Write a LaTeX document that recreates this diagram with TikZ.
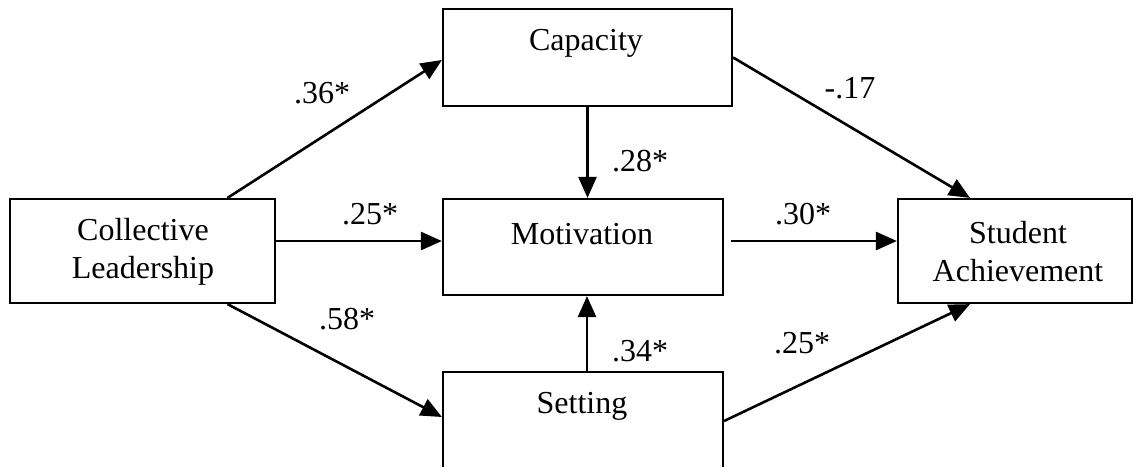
\documentclass[tikz,border=0pt]{standalone}
\usepackage{fontspec}
\setmainfont{Liberation Serif}
\usetikzlibrary{calc,arrows.meta}
\begin{document}
\begin{tikzpicture}[x=0.5pt,y=-0.5pt,
  box/.style={draw,line width=1.1pt,rectangle,inner sep=0pt},
  txt/.style={font=\fontsize{16}{19}\selectfont,align=center,inner sep=0pt},
  lab/.style={font=\fontsize{16}{19}\selectfont,inner sep=0pt},
  arr/.style={line width=1.3pt,-{Triangle[length=10.5pt,width=9pt]}}]
\useasboundingbox (0,0) rectangle (1134,466);
\clip (0,0) rectangle (1134,466);
% boxes
\node[box,minimum width=265*0.5pt,minimum height=104*0.5pt] (cl) at (142.5,251) {};
\node[box,minimum width=289*0.5pt,minimum height=97*0.5pt] (cap) at (587.5,57.5) {};
\node[box,minimum width=280*0.5pt,minimum height=96*0.5pt] (mot) at (583,247) {};
\node[box,minimum width=280*0.5pt,minimum height=118*0.5pt] (set) at (583,431) {};
\node[box,minimum width=234*0.5pt,minimum height=104*0.5pt] (sa) at (1015,251) {};
% texts
\node[txt] (tcl) at (143,252) {Collective\\Leadership};
\node[txt] (tcap) at (586,43) {Capacity};
\node[txt] (tmot) at (582,234) {Motivation};
\node[txt] (tset) at (582,406) {Setting};
\node[txt] (tsa) at (1018,252) {Student\\Achievement};
% connectors
\draw[arr] ($(cl.north)+(85,0)$) -- ($(cap.west)+(0,2.5)$);
\draw[arr] (cap.east) -- ($(sa.north)+(-45,0)$);
\draw[arr] ($(cl.south)+(85,0)$) -- ($(set.west)+(0,-14)$);
\draw[arr] ($(set.east)+(0,-10)$) -- ($(sa.south)+(-45,0)$);
\draw[arr] ($(cl.east)+(0,-10)$) -- ($(mot.west)+(0,-6)$);
\draw[arr] ($(mot.east)+(7,-6)$) -- ($(sa.west)+(0,-10)$);
\draw[arr] (cap.south) -- (cap.south |- mot.north);
\draw[arr] ($(set.north)+(4,0)$) -- ($(mot.south)+(4,0)$);
% labels
\node[lab] (l1) at (322,93) {.36*};
\node[lab] (l2) at (850,88) {-.17};
\node[lab] (l3) at (370,214) {.25*};
\node[lab] (l4) at (803,214) {.30*};
\node[lab] (l5) at (640,161) {.28*};
\node[lab] (l6) at (640,351) {.34*};
\node[lab] (l7) at (347,319) {.58*};
\node[lab] (l8) at (802,343) {.25*};
\end{tikzpicture}
\end{document}
